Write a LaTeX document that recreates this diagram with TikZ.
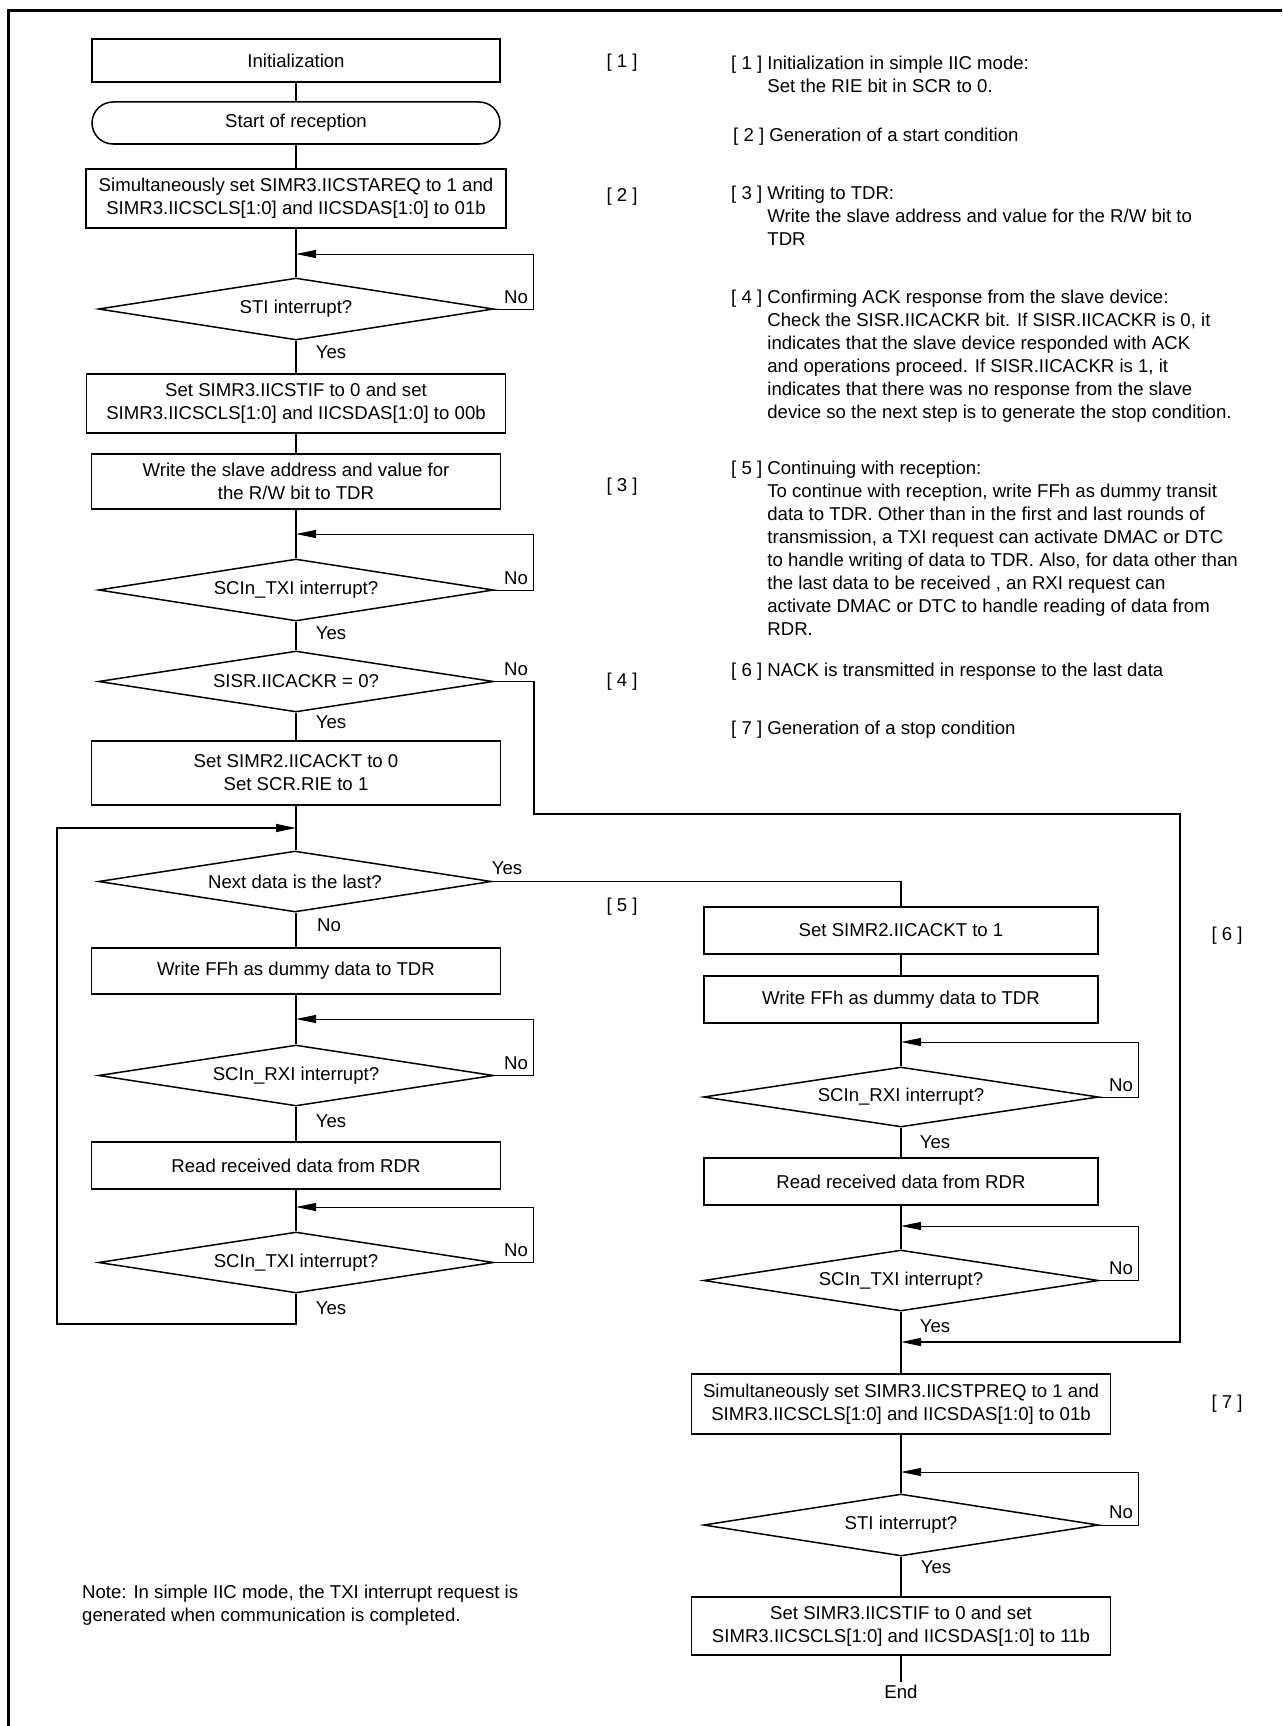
\documentclass[tikz,border=0pt]{standalone}
\usepackage{fontspec}
\setmainfont{Liberation Sans}
\usetikzlibrary{arrows.meta,shapes.geometric}
\begin{document}
\begin{tikzpicture}[x=1pt,y=-1pt,
  every node/.style={font=\fontsize{18.6}{23}\selectfont, inner sep=0pt},
  box/.style={draw, line width=1.5pt, align=center, rectangle},
  term/.style={box, rounded corners=21pt},
  dec/.style={draw, line width=1.5pt, diamond, shape aspect=6.4, align=center, minimum width=395pt, minimum height=62pt},
  conn/.style={line width=1.2pt},
  loopl/.style={line width=1pt, -{Triangle[length=20pt,width=8pt]}},
  longl/.style={line width=1.6pt},
  longarr/.style={line width=1.6pt, -{Triangle[length=20pt,width=8pt]}},
  expl/.style={anchor=base west},
]
\useasboundingbox (0,0) rectangle (1282,1726);
\draw[line width=3pt] (8,1726) -- (8,10.5) -- (1282,10.5);

% ---------- left column ----------
\node[box, minimum width=408pt, minimum height=43pt] (init) at (296,60.5) {Initialization};
\node[term, minimum width=408pt, minimum height=42pt] (start) at (296,123) {Start of reception};
\node[box, minimum width=420pt, minimum height=59pt] (s2) at (296,198.5) {Simultaneously set SIMR3.IICSTAREQ to 1 and\\SIMR3.IICSCLS[1:0] and IICSDAS[1:0] to 01b};
\coordinate (m1) at (296,254);
\node[dec] (d1) at (296,309) {STI interrupt?};
\node[box, minimum width=419pt, minimum height=59pt] (s3) at (296,403.5) {Set SIMR3.IICSTIF to 0 and set\\SIMR3.IICSCLS[1:0] and IICSDAS[1:0] to 00b};
\node[box, minimum width=409pt, minimum height=55pt] (s4) at (296,481.5) {Write the slave address and value for\\the R/W bit to TDR};
\coordinate (m2) at (296,534);
\node[dec] (d2) at (296,590) {SCIn\_TXI interrupt?};
\node[dec, minimum height=61pt] (d3) at (296,681.5) {SISR.IICACKR = 0?};
\node[box, minimum width=409pt, minimum height=64pt] (s5) at (296,773) {Set SIMR2.IICACKT to 0\\Set SCR.RIE to 1};
\coordinate (m3) at (296,828);
\node[dec, minimum width=393pt, minimum height=61pt] (d4) at (295,881.5) {Next data is the last?};
\node[box, minimum width=409pt, minimum height=46pt] (s6) at (296,971) {Write FFh as dummy data to TDR};
\coordinate (m4) at (296,1019);
\node[dec, minimum height=61pt] (d5) at (296,1075.5) {SCIn\_RXI interrupt?};
\node[box, minimum width=409pt, minimum height=47pt] (s7) at (296,1165.5) {Read received data from RDR};
\coordinate (m5) at (296,1207);
\node[dec, minimum height=61pt] (d6) at (296,1262.5) {SCIn\_TXI interrupt?};

% ---------- right column ----------
\node[box, minimum width=394pt, minimum height=47pt] (r1) at (901,930.5) {Set SIMR2.IICACKT to 1};
\node[box, minimum width=394pt, minimum height=47pt] (r2) at (901,999.5) {Write FFh as dummy data to TDR};
\coordinate (n1) at (901,1042);
\node[dec, minimum height=60pt] (rd1) at (901,1097) {SCIn\_RXI interrupt?};
\node[box, minimum width=394pt, minimum height=47pt] (r3) at (901,1181.5) {Read received data from RDR};
\coordinate (n2) at (901,1226);
\node[dec, minimum height=61pt] (rd2) at (901,1280.5) {SCIn\_TXI interrupt?};
\coordinate (n3) at (901,1342);
\node[box, minimum width=419pt, minimum height=60pt] (r4) at (901,1404) {Simultaneously set SIMR3.IICSTPREQ to 1 and\\SIMR3.IICSCLS[1:0] and IICSDAS[1:0] to 01b};
\coordinate (n4) at (901,1472);
\node[dec] (rd3) at (901,1525) {STI interrupt?};
\node[box, minimum width=419pt, minimum height=58pt] (r5) at (901,1626) {Set SIMR3.IICSTIF to 0 and set\\SIMR3.IICSCLS[1:0] and IICSDAS[1:0] to 11b};
\node[inner sep=3pt] (end) at (901,1692) {End};

% ---------- straight connectors ----------
\draw[conn] (init) -- (start);
\draw[conn] (start) -- (s2);
\draw[conn] (s2) -- (d1);
\draw[conn] (d1) -- (s3);
\draw[conn] (s3) -- (s4);
\draw[conn] (s4) -- (d2);
\draw[conn] (d2) -- (d3);
\draw[conn] (d3) -- (s5);
\draw[conn] (s5.south) -- (d4.north -| s5.south);
\draw[conn] (d4.south -| s6.north) -- (s6);
\draw[conn] (s6) -- (d5);
\draw[conn] (d5) -- (s7);
\draw[conn] (s7) -- (d6);
\draw[conn] (r1) -- (r2);
\draw[conn] (r2) -- (rd1);
\draw[conn] (rd1) -- (r3);
\draw[conn] (r3) -- (rd2);
\draw[conn] (rd2) -- (r4);
\draw[conn] (r4) -- (rd3);
\draw[conn] (rd3) -- (r5);
\draw[conn] (r5) -- (end);

% ---------- wait loops ----------
\draw[loopl] (d1.east) -- ++(39.5,0) |- (m1);
\draw[loopl] (d2.east) -- ++(39.5,0) |- (m2);
\draw[loopl] (d5.east) -- ++(39.5,0) |- (m4);
\draw[loopl] (d6.east) -- ++(39.5,0) |- (m5);
\draw[loopl] (rd1.east) -- ++(39.5,0) |- (n1);
\draw[loopl] (rd2.east) -- ++(39.5,0) |- (n2);
\draw[loopl] (rd3.east) -- ++(39.5,0) |- (n4);

% ---------- long branches ----------
\draw[longarr] (d3.east) -- ++(39.5,0) -- ++(0,132.5) -- ++(646,0) |- (n3);
\draw[longl] (d4.east) -| (r1.north);
\draw[longarr] (d6.south) -- ++(0,30.5) -- ++(-239,0) |- (m3);

% ---------- Yes / No ----------
\node (no1) at (516,297) {No};
\node (yes1) at (331,352) {Yes};
\node (no2) at (516,578) {No};
\node (yes2) at (331,633) {Yes};
\node (no3) at (516,669) {No};
\node (yes3) at (331,722) {Yes};
\node (yes4) at (507,868) {Yes};
\node (no4) at (329,925) {No};
\node (no5) at (516,1063) {No};
\node (yes5) at (331,1121) {Yes};
\node (no6) at (516,1250) {No};
\node (yes6) at (331,1308) {Yes};
\node (no7) at (1121,1085) {No};
\node (yes7) at (935,1142) {Yes};
\node (no8) at (1121,1268) {No};
\node (yes8) at (935,1326) {Yes};
\node (no9) at (1121,1512) {No};
\node (yes9) at (936,1567) {Yes};

% ---------- step markers ----------
\node (k1) at (622,63) {[ 1 ]};
\node (k2) at (622,197) {[ 2 ]};
\node (k3) at (622,487) {[ 3 ]};
\node (k4) at (622,682) {[ 4 ]};
\node (k5) at (622,907) {[ 5 ]};
\node (k6) at (1227,936) {[ 6 ]};
\node (k7) at (1227,1404) {[ 7 ]};

% ---------- explanations ----------
\node[expl] (e1) at (731,69.5) {\begin{tabular}[t]{@{}l@{\ }l@{}}[ 1 ] & Initialization in simple IIC mode:\\ & Set the RIE bit in SCR to 0.\end{tabular}};
\node[expl] (e2) at (733,141.5) {[ 2 ] Generation of a start condition};
\node[expl] (e3) at (731,199.5) {\begin{tabular}[t]{@{}l@{\ }l@{}}[ 3 ] & Writing to TDR:\\ & Write the slave address and value for the R/W bit to\\ & TDR\end{tabular}};
\node[expl] (e4) at (731,303.5) {\begin{tabular}[t]{@{}l@{\ }l@{}}[ 4 ] & Confirming ACK response from the slave device:\\ & Check the SISR.IICACKR bit. If SISR.IICACKR is 0, it\\ & indicates that the slave device responded with ACK\\ & and operations proceed. If SISR.IICACKR is 1, it\\ & indicates that there was no response from the slave\\ & device so the next step is to generate the stop condition.\end{tabular}};
\node[expl] (e5) at (731,474.5) {\begin{tabular}[t]{@{}l@{\ }l@{}}[ 5 ] & Continuing with reception:\\ & To continue with reception, write FFh as dummy transit\\ & data to TDR. Other than in the first and last rounds of\\ & transmission, a TXI request can activate DMAC or DTC\\ & to handle writing of data to TDR. Also, for data other than\\ & the last data to be received , an RXI request can\\ & activate DMAC or DTC to handle reading of data from\\ & RDR.\end{tabular}};
\node[expl] (e6) at (731,676.5) {[ 6 ] NACK is transmitted in response to the last data};
\node[expl] (e7) at (731,734.5) {[ 7 ] Generation of a stop condition};

\node[expl] (note) at (82,1598.5) {\begin{tabular}[t]{@{}l@{}}Note: In simple IIC mode, the TXI interrupt request is\\generated when communication is completed.\end{tabular}};
\end{tikzpicture}
\end{document}
